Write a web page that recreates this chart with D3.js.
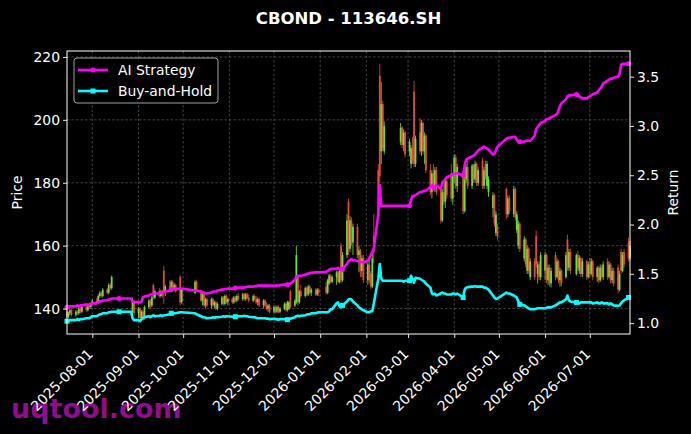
<!DOCTYPE html>
<html>
<head>
<meta charset="utf-8">
<script src="https://cdn.jsdelivr.net/npm/d3@7"></script>
<style>
  body { margin: 0; background: #000; }
  svg { display: block; font-family: "DejaVu Sans", sans-serif; }
</style>
</head>
<body>
<div id="chart"></div>
<script>
// exchange closed days (weekends are dropped separately)
const holidays = [
  "2025-10-01","2025-10-02","2025-10-03","2025-10-06","2025-10-07","2025-10-08",
  "2026-01-01","2026-01-02",
  "2026-02-16","2026-02-17","2026-02-18","2026-02-19","2026-02-20","2026-02-23",
  "2026-04-06","2026-05-01","2026-05-04","2026-05-05","2026-06-19"
];

// daily candles, one row per month
const opens = [
  139,137.5,138.5,139.5,138,139,138.5,140,139,140.5,139.5,141,140.5,
  141.5,142.5,142,144,145,144,146,145,147.5,146.5,150,150,150,150,150,150,150,150,150,139,142,
  138.5,140,137,139,137,140.5,142.5,141,147.5,143.5,145.5,144,145.5,152,145,147,146,148.5,146.5,147.5,150,142,
  145,148.5,145.5,142.5,144.5,141,143,141,143,141,142,140,141.5,143.5,141.5,144,142,
  143,142,143.5,142.5,144,143,144.5,143,144.5,143.5,142.5,144,143,142,143,141,142.5,141,140,141,
  139,140.5,139,140.5,139,140,141.5,139.5,140,145.5,141,142,150,142,145.5,144,146.5,144.5,147,145,146,144.5,146,
  147,145,148,150.5,148.5,150,151.5,148.5,160,149,157,174,159,168,161,166,157,158.5,152,156,
  149,154,151,147,163,184,214,190,205,190,193,197.5,192,196,
  190,186,191,209,186,196,190,199,190,195,184,177,183,178.5,184,178,168,177,174,180.5,183,175,
  182,188,179,183,171,181,185,179,185.5,181,186,180,187,179,186,179,177,172,176,164,166,
  178,170,175,170,178,165,160,167,156,162,152,159,150,155,163,151,154,150,
  152,157,149,153,148,157,150,155,149,152,150,162,153,158,151,157,152,156,151,155,150,
  154,151,155,150,153,149,153,150,155,150,154,149,152,153,146,158,152,158,161,156
];
const highs = [
  139.5,139,140,140,139.5,139.5,140.5,140.5,141,141,141.5,142,142,
  143,143.5,144.5,145.5,145.5,146.5,146.5,148,148,150.5,150,150,150,150,150,150,150,150,150,143.5,142.5,
  140.5,140.5,139.5,139.5,141,143,143,144,148,146,146.5,146,146,153.6,147.5,149,149,149,148,148,150.5,146.5,
  149,149,146,145,145,143.5,143.5,143.5,143.5,142.5,142.5,142,144,144,144.5,144.5,143.5,
  143.5,144,144,144.5,145,145,145,145,145,144.5,144.5,144.5,144,143.5,143.5,143,143,142,141.5,141.5,
  141,141,141,141,140.5,142,142,142.5,142.5,146,143,160,150.5,146,147.5,147,147,147.5,147.5,146.5,146.5,146.5,146.5,
  148.5,149.5,151,151,150.5,152,152,152.5,161,158,170,175,169.5,169,167,167,160,159,157,157,
  155,156,152,158,170,186,217.8,212,206,199.5,199,198,197,196.5,
  194,192,194.5,212.4,195,200.5,200,199.5,196,195.5,186,184,186,185,185,179,178,180,181.5,182,186,183,
  189,189,186,184,182,186,187,186,186,187,186.5,185,188,185,187,187,182,177,176.5,171,167,
  178.5,176,176,179,178.5,171,168,167.5,163,162.5,160,159.5,156,156,164.8,155,155,158,
  158,157.5,154,154,153,158,156,155.5,153,152.5,158,163.5,159,159,157.5,158.4,157,156.5,156,155.5,155,
  156,156,155.5,153.5,153.5,154,154,155,156,155,154.5,153,153,154,152,159,158,159,162.5,161.5
];
const lows = [
  137,137,138,137.5,137.5,138,138,138.5,138.5,139,139,140,140,
  141,141.5,141.5,143.5,143.5,143.5,144.5,144.5,146,146,150,150,150,150,150,150,150,150,150,138,137.5,
  137,136.5,136,136,136.5,140,140,140.5,143,143,143.5,143.5,143.5,141.5,144,145.5,145.5,146,145.5,145,141,141.5,
  144.5,145.5,142,141,140.5,140,140.5,140,140.5,140,139.5,139.5,141,141,141,141.5,141,
  141.5,141.5,142,142,142.5,142.5,142.5,142.5,143,142,142,142.5,141.5,141,140.5,140,140.5,139.5,139,138.5,
  138.5,138.5,138.5,138.5,138.5,139.5,139,139,139.5,140,140.5,141.5,141,141.5,143.5,143.5,144,144,144.5,144,144,144,144,
  144.5,144.5,147.5,148,148,147.5,148,148,148,148.5,156,157,158,160,157,156,151.5,150,150,148,
  147.5,148,146.3,146.5,154.5,170,180,186,190,189,192,191,190,188,
  188.5,184.5,186,185,185,189,188.5,189,186,183,176,175,177.5,177,176,167,167.5,173,172,175,174,173,
  180,178,177,170,170.5,180,178,178,180,180,179,179,178,178,181,178,175.5,169,166,163,161.6,
  168.5,169,170,169,168,164,159,158,155,153,151,151,149,149,153,148,149,149,
  149,148,147.5,147,146.7,149,149.5,148,147,147,149.5,152,152,151,150.5,152,151,150,150,149,149.5,
  150,150.5,149,148.5,148,148.5,149.5,149,149,149.5,148,148,147,144.8,145.5,151,151.5,153,155,155.5
];
const closes = [
  137.5,138.5,139.5,138,139,138.5,140,139,140.5,139.5,141,140.5,141.5,
  142.5,142,144,145,144,146,145,147.5,146.5,150,150,150,150,150,150,150,150,150,150,142.5,138.5,
  140,137,139,136.5,140.5,142.5,141,143.5,143.5,145.5,144,145.5,144,145,147,146,148.5,146.5,147.5,145.5,142,146,
  148.5,146,142.5,144.5,141,143,141,143,141,142,140,141.5,143.5,141.5,144,142,143,
  142,143.5,142.5,144,143,144.5,143,144.5,143.5,142.5,144,143,142,143,141,142.5,141,140,141,139,
  140.5,139,140.5,139,140,141.5,139.5,142,142,140.5,142.5,157,142,145.5,144,146.5,144.5,147,145,146,144.5,146,145,
  145,149,150.5,148.5,150,151.5,148.5,152,149,157,168,159,168,161,166,157,158.5,152,156,149,
  154,149,147,156,158,171,182,205,191,198,197.5,192,196,189,
  193,191,187,186,194,190,199,190,195,184,177,183,178.5,184,177,168,177,174,180.5,176,175,182,
  188,179,185,171,181,185,179,185.5,181,186,180,184,179,184,182,186,181,176,167,170,163,
  170,175,171,178,169,170,167,159,162,154,159,152,155,150,154,154,150,157,
  157,149,153,148,152,150,155,149,152,148,157,153,158,152,157,153,156,151,155,150,154,
  151,155,150,153,149,153,150,154,150,154,149,152,148,146,151,152,157,154,156,160
];

// cumulative return curves (right axis)
const aiReturn = [
  1.16,1.16,1.17,1.17,1.17,1.18,1.17,1.18,1.18,1.19,1.18,1.19,1.19,
  1.20,1.20,1.21,1.22,1.22,1.23,1.23,1.24,1.24,1.25,1.25,1.25,1.25,1.25,1.25,1.25,1.25,1.25,1.25,1.22,1.215,
  1.21,1.21,1.22,1.26,1.27,1.28,1.29,1.29,1.30,1.30,1.30,1.31,1.31,1.31,1.32,1.33,1.34,1.345,1.35,1.345,1.35,1.35,
  1.33,1.33,1.32,1.31,1.31,1.30,1.30,1.31,1.32,1.32,1.32,1.33,1.34,1.34,1.345,1.345,1.35,
  1.35,1.35,1.355,1.355,1.36,1.36,1.36,1.365,1.37,1.37,1.37,1.375,1.375,1.38,1.38,1.38,1.38,1.38,1.38,1.38,
  1.38,1.38,1.38,1.38,1.385,1.39,1.39,1.39,1.40,1.40,1.44,1.47,1.48,1.48,1.48,1.49,1.50,1.50,1.51,1.51,1.515,1.515,1.515,
  1.52,1.53,1.54,1.55,1.55,1.55,1.56,1.55,1.54,1.55,1.60,1.63,1.64,1.65,1.64,1.63,1.63,1.62,1.62,1.62,
  1.63,1.66,1.69,1.72,1.76,2.10,2.40,2.19,2.19,2.19,2.19,2.19,2.19,2.19,
  2.19,2.25,2.29,2.29,2.30,2.33,2.33,2.34,2.34,2.345,2.38,2.40,2.36,2.39,2.40,2.36,2.43,2.44,2.46,2.48,2.50,2.51,
  2.51,2.52,2.52,2.50,2.60,2.66,2.67,2.69,2.70,2.71,2.73,2.75,2.78,2.79,2.78,2.77,2.76,2.71,2.72,2.75,2.79,
  2.87,2.88,2.88,2.89,2.89,2.86,2.84,2.84,2.84,2.85,2.85,2.85,2.85,2.90,2.97,2.99,3.01,3.03,
  3.05,3.07,3.07,3.08,3.09,3.11,3.12,3.16,3.20,3.23,3.27,3.30,3.31,3.31,3.32,3.32,3.30,3.29,3.28,3.28,3.29,
  3.30,3.31,3.32,3.34,3.36,3.38,3.40,3.43,3.46,3.47,3.48,3.48,3.49,3.50,3.53,3.62,3.63,3.63,3.63,3.62
];
const bhReturn = [
  1.02,1.02,1.03,1.03,1.03,1.04,1.03,1.04,1.04,1.05,1.05,1.05,1.06,
  1.07,1.07,1.08,1.09,1.09,1.10,1.10,1.11,1.11,1.115,1.115,1.115,1.115,1.115,1.115,1.115,1.115,1.115,1.115,1.05,1.03,
  1.03,1.02,1.04,1.05,1.06,1.07,1.06,1.07,1.08,1.07,1.075,1.08,1.07,1.08,1.08,1.09,1.10,1.09,1.10,1.10,1.11,1.11,
  1.10,1.09,1.07,1.06,1.06,1.055,1.05,1.055,1.06,1.055,1.06,1.06,1.065,1.07,1.065,1.07,1.07,
  1.065,1.065,1.065,1.07,1.07,1.07,1.075,1.07,1.07,1.065,1.06,1.06,1.055,1.05,1.05,1.05,1.05,1.045,1.045,1.04,
  1.045,1.04,1.04,1.035,1.04,1.04,1.035,1.035,1.04,1.045,1.06,1.07,1.075,1.07,1.075,1.08,1.085,1.09,1.09,1.10,1.10,1.105,1.11,
  1.11,1.11,1.12,1.14,1.14,1.20,1.21,1.17,1.16,1.18,1.22,1.24,1.245,1.24,1.22,1.18,1.16,1.15,1.14,1.13,
  1.11,1.11,1.12,1.12,1.20,1.45,1.60,1.45,1.43,1.43,1.43,1.43,1.42,1.43,
  1.43,1.48,1.45,1.41,1.46,1.45,1.44,1.43,1.42,1.40,1.36,1.30,1.29,1.30,1.28,1.30,1.31,1.30,1.30,1.29,1.29,1.30,
  1.30,1.29,1.30,1.26,1.34,1.36,1.365,1.37,1.37,1.375,1.37,1.37,1.37,1.36,1.36,1.35,1.34,1.28,1.26,1.245,1.25,
  1.31,1.30,1.30,1.28,1.27,1.26,1.22,1.19,1.18,1.17,1.16,1.15,1.14,1.14,1.145,1.15,1.15,1.15,
  1.15,1.155,1.16,1.16,1.16,1.18,1.19,1.20,1.21,1.21,1.24,1.28,1.23,1.22,1.21,1.21,1.20,1.21,1.21,1.21,1.21,
  1.21,1.21,1.20,1.21,1.20,1.20,1.21,1.20,1.20,1.19,1.20,1.19,1.18,1.175,1.18,1.20,1.22,1.23,1.26,1.28
];

const priceTicks = [140, 160, 180, 200, 220];
const returnTicks = [1.0, 1.5, 2.0, 2.5, 3.0, 3.5];
const title = "CBOND - 113646.SH";

const W = 691, H = 434;
const margin = { top: 51, right: 61, bottom: 100, left: 67 };
const width = W - margin.left - margin.right;
const height = H - margin.top - margin.bottom;
const fontPx = "13.9px";

const fmtDay = d3.timeFormat("%Y-%m-%d");
const dates = d3.timeDay.range(new Date(2025, 6, 15), new Date(2026, 6, 29))
  .filter(d => d.getDay() !== 0 && d.getDay() !== 6 && !holidays.includes(fmtDay(d)));

const n = Math.min(dates.length, closes.length, opens.length, highs.length, lows.length);
const candles = d3.range(n).map(i => ({
  date: dates[i], open: opens[i], high: highs[i], low: lows[i], close: closes[i]
}));

const svg = d3.select("#chart").append("svg")
  .attr("width", W).attr("height", H)
  .style("background", "#000");

// watermark sits below the tick labels
svg.append("text")
  .attr("x", 11).attr("y", 418)
  .attr("fill", "#8e0e8e")
  .style("font-size", "27px")
  .style("font-weight", "bold")
  .text("uqtool.com");

const g = svg.append("g").attr("transform", `translate(${margin.left},${margin.top})`);

const x = d3.scaleTime().domain(d3.extent(dates.slice(0, n))).range([0, width]);

function padded(lo, hi) {
  const r = hi - lo;
  return [lo - r * 0.05, hi + r * 0.05];
}
const yL = d3.scaleLinear().domain(padded(d3.min(lows), d3.max(highs))).range([height, 0]);
const allRet = aiReturn.concat(bhReturn);
const yR = d3.scaleLinear().domain(padded(d3.min(allRet), d3.max(allRet))).range([height, 0]);

const monthTicks = x.ticks(d3.timeMonth.every(1));

// grid
const grid = g.append("g")
  .attr("stroke", "#5c5c5c").attr("stroke-width", 0.7).attr("stroke-dasharray", "2.5,2");
grid.selectAll(".gx").data(monthTicks).join("line")
  .attr("x1", d => x(d)).attr("x2", d => x(d)).attr("y1", 0).attr("y2", height);
grid.selectAll(".gy").data(priceTicks).join("line")
  .attr("y1", d => yL(d)).attr("y2", d => yL(d)).attr("x1", 0).attr("x2", width);

// candles
const up = "#72e642", down = "#ee4e3e";
const drawn = candles.filter(d => d.high !== d.low);
g.append("g").selectAll("line").data(drawn).join("line")
  .attr("x1", d => x(d.date)).attr("x2", d => x(d.date))
  .attr("y1", d => yL(d.high)).attr("y2", d => yL(d.low))
  .attr("stroke", d => d.close >= d.open ? up : down)
  .attr("stroke-width", 0.9)
  .attr("opacity", 0.9);
g.append("g").selectAll("rect").data(drawn).join("rect")
  .attr("x", d => x(d.date) - 0.9)
  .attr("width", 1.8)
  .attr("y", d => yL(Math.max(d.open, d.close)))
  .attr("height", d => Math.max(0.6, Math.abs(yL(d.open) - yL(d.close))))
  .attr("fill", d => d.close >= d.open ? up : down)
  .attr("opacity", 0.9);

// return lines
const lineGen = d3.line().x(d => x(d[0])).y(d => yR(d[1]));
const aiPts = aiReturn.slice(0, n).map((v, i) => [dates[i], v]);
const bhPts = bhReturn.slice(0, n).map((v, i) => [dates[i], v]);

g.append("path").datum(aiPts).attr("d", lineGen)
  .attr("fill", "none").attr("stroke", "#ff00ff").attr("stroke-width", 2.6)
  .attr("stroke-linejoin", "round");
g.append("path").datum(bhPts).attr("d", lineGen)
  .attr("fill", "none").attr("stroke", "#00ffff").attr("stroke-width", 2.6)
  .attr("stroke-linejoin", "round");

// markers every 25 sessions
const every25 = (arr) => arr.filter((d, i) => i % 25 === 0);
g.append("g").selectAll("circle").data(every25(aiPts)).join("circle")
  .attr("cx", d => x(d[0])).attr("cy", d => yR(d[1])).attr("r", 2.5)
  .attr("fill", "#ff00ff");
g.append("g").selectAll("rect").data(every25(bhPts)).join("rect")
  .attr("x", d => x(d[0]) - 2.5).attr("y", d => yR(d[1]) - 2.5)
  .attr("width", 5).attr("height", 5)
  .attr("fill", "#00ffff");

// frame
g.append("rect").attr("width", width).attr("height", height)
  .attr("fill", "none").attr("stroke", "#fff").attr("stroke-width", 1);

// axes
function styleAxis(sel) {
  sel.select(".domain").remove();
  sel.selectAll("line").attr("stroke", "#fff").attr("stroke-width", 0.9);
  sel.selectAll("text").attr("fill", "#fff").style("font-size", fontPx)
    .style("font-family", "DejaVu Sans, sans-serif");
}

const xAxis = g.append("g").attr("transform", `translate(0,${height})`)
  .call(d3.axisBottom(x).tickValues(monthTicks).tickFormat(fmtDay).tickSize(4).tickPadding(3));
styleAxis(xAxis);
xAxis.selectAll("text")
  .attr("text-anchor", "end")
  .attr("dy", null)
  .attr("y", null)
  .attr("transform", "translate(1,21) rotate(-45)");

const yAxisL = g.append("g")
  .call(d3.axisLeft(yL).tickValues(priceTicks).tickSize(4).tickPadding(3));
styleAxis(yAxisL);

const yAxisR = g.append("g").attr("transform", `translate(${width},0)`)
  .call(d3.axisRight(yR).tickValues(returnTicks).tickFormat(d3.format(".1f")).tickSize(4).tickPadding(3));
styleAxis(yAxisR);

// labels
svg.append("text")
  .attr("transform", `translate(22,${margin.top + height / 2}) rotate(-90)`)
  .attr("text-anchor", "middle").attr("fill", "#fff")
  .style("font-size", fontPx).text("Price");
svg.append("text")
  .attr("transform", `translate(678,${margin.top + height / 2}) rotate(-90)`)
  .attr("text-anchor", "middle").attr("fill", "#fff")
  .style("font-size", fontPx).text("Return");

svg.append("text")
  .attr("x", margin.left + width / 2).attr("y", 24)
  .attr("text-anchor", "middle").attr("fill", "#fff")
  .style("font-size", "16.5px").style("font-weight", "bold")
  .text(title);

// legend
const legend = g.append("g").attr("transform", "translate(7,7)");
legend.append("rect")
  .attr("width", 144).attr("height", 45).attr("rx", 3)
  .attr("fill", "#000").attr("fill-opacity", 0.8)
  .attr("stroke", "#cccccc").attr("stroke-width", 0.8);
const items = [
  { label: "AI Strategy", color: "#ff00ff", shape: "circle" },
  { label: "Buy-and-Hold", color: "#00ffff", shape: "square" }
];
items.forEach((it, i) => {
  const row = legend.append("g").attr("transform", `translate(4,${12 + i * 21})`);
  row.append("line").attr("x1", 0).attr("x2", 30).attr("y1", 0).attr("y2", 0)
    .attr("stroke", it.color).attr("stroke-width", 2.6);
  if (it.shape === "circle") {
    row.append("circle").attr("cx", 15).attr("cy", 0).attr("r", 2.5).attr("fill", it.color);
  } else {
    row.append("rect").attr("x", 12.5).attr("y", -2.5).attr("width", 5).attr("height", 5).attr("fill", it.color);
  }
  row.append("text").attr("x", 40).attr("y", 5)
    .attr("fill", "#fff").style("font-size", fontPx).text(it.label);
});
</script>
</body>
</html>
